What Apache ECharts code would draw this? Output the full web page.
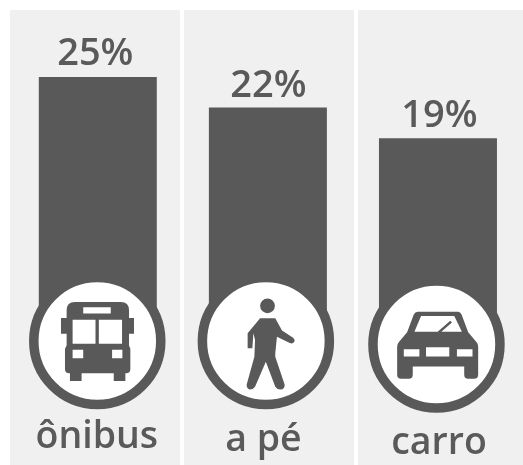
<!DOCTYPE html>
<html><head><meta charset="utf-8">
<style>html,body{margin:0;padding:0;background:#fff}#c{width:523px;height:465px}</style>
<script src="https://cdn.jsdelivr.net/npm/echarts@6/dist/echarts.min.js"></script>
</head><body><div id="c"></div>
<script>
const categories = ['ônibus', 'a pé', 'carro'];
const shares = [25, 22, 19];
const badgeBaseline = [0, 0, 0];

const INK = '#595959', TEXT = '#5a5a5a', PANEL = '#f0f0f0', FONT = '"Open Sans", sans-serif';
const busIcon = 'path://M17 25Q17 0 42 0L180 0Q205 0 205 25L205 48L220 48L220 95L205 95L205 130L209 140L209 200Q209 213 196 213L194 213L194 236L159 236L159 213L62 213L62 236L27 236L27 213L25 213Q12 213 12 200L12 140L17 130L17 95L0 95L0 48L17 48Z' +
  'M67 16L67 34L150 34L150 16Z M35 53L35 125L104 125L104 53Z M114 53L114 125L184 125L184 53Z M35 143L35 168L67 168L67 143Z M154 143L154 168L185 168L185 143Z';
const walkerIcon = 'path://M40 22A22 22 0 1 1 84 22A22 22 0 1 1 40 22Z' +
  'M40 59L85 59L105 96L138 117Q145 124 141 130Q136 137 128 133L90 114L85 164L85 174L113 258Q113 272 100 272Q90 272 85 264L57 189L25 264Q20 272 10 272Q0 270 0 258L23 174L25 124L20 104L17 149L3 149L3 104Z';
const carIcon = 'path://M62 0L184 0Q190 0 194 8L214 62L238 90Q244 96 244 105L244 190Q244 202 232 202L214 202Q202 202 202 190L202 165L47 165L47 190Q47 202 35 202L12 202Q0 202 0 190L0 105Q0 96 6 90L30 62L50 8Q54 0 62 0Z' +
  'M72 13L52 60L122 60L160 27L165 32L133 60L195 60L172 13Z M20 113L20 135L67 135L67 113Z M87 107L87 135L157 135L157 107Z M180 113L180 135L227 135L227 113Z';

const ringOffsets = [[-0.5, 9], [-2, 9], [-1.5, 12.5]];
const iconSymbols = [busIcon, walkerIcon, carIcon];
const iconSizes = [[73, 79], [48, 91], [81, 67]];
const iconOffsets = [[-0.3, 9.5], [2.75, 12], [-0.3, 13.3]];
const valueLabelOffsets = [[-2.5, -1], [0.5, 1], [1.5, 0]];
const labelKeys = ['a', 'b', 'c'];

const chart = echarts.init(document.getElementById('c'), null, {renderer: 'canvas'});
chart.setOption({
  animation: false,
  backgroundColor: '#fff',
  graphic: [[10, 170], [184, 170], [358, 165]].map(p => ({
    type: 'rect', z: -10, silent: true,
    shape: {x: p[0], y: 10, width: p[1], height: 455},
    style: {fill: PANEL}
  })),
  grid: {left: 12.75, width: 511.5, top: 10, height: 455},
  xAxis: {
    type: 'category', data: categories,
    axisLine: {show: false}, axisTick: {show: false},
    axisLabel: {
      inside: true, margin: 3, interval: 0,
      formatter: (v, i) => '{' + labelKeys[i] + '|' + v + '}',
      rich: {
        a: {fontFamily: FONT, fontSize: 37.5, fontWeight: 600, color: TEXT, padding: [0, 2, 6, 0]},
        b: {fontFamily: FONT, fontSize: 37.5, fontWeight: 600, color: TEXT, padding: [0, 9, 3, 0]},
        c: {fontFamily: FONT, fontSize: 37.5, fontWeight: 600, color: TEXT, padding: [0, 0, 0, 2]}
      }
    }
  },
  yAxis: {type: 'value', min: -13.04, max: 31.57, show: false, splitLine: {show: false}},
  series: [
    {
      type: 'bar', z: 2, barWidth: 118,
      data: shares.map((v, i) => ({value: v, label: {offset: valueLabelOffsets[i]}})),
      itemStyle: {color: INK},
      label: {show: true, position: 'top', distance: 3, formatter: '{c}%',
        fontFamily: FONT, fontSize: 38, fontWeight: 600, color: TEXT}
    },
    {
      type: 'scatter', z: 3, silent: true, clip: false,
      data: badgeBaseline.map((v, i) => ({value: v, symbol: 'circle', symbolSize: 127, symbolOffset: ringOffsets[i]})),
      itemStyle: {color: '#fff', borderColor: INK, borderWidth: 9.5, opacity: 1}
    },
    {
      type: 'scatter', z: 4, silent: true, clip: false,
      data: badgeBaseline.map((v, i) => ({value: v, symbol: iconSymbols[i], symbolSize: iconSizes[i], symbolOffset: iconOffsets[i], symbolKeepAspect: false})),
      itemStyle: {color: INK, opacity: 1}
    }
  ]
});
</script></body></html>
